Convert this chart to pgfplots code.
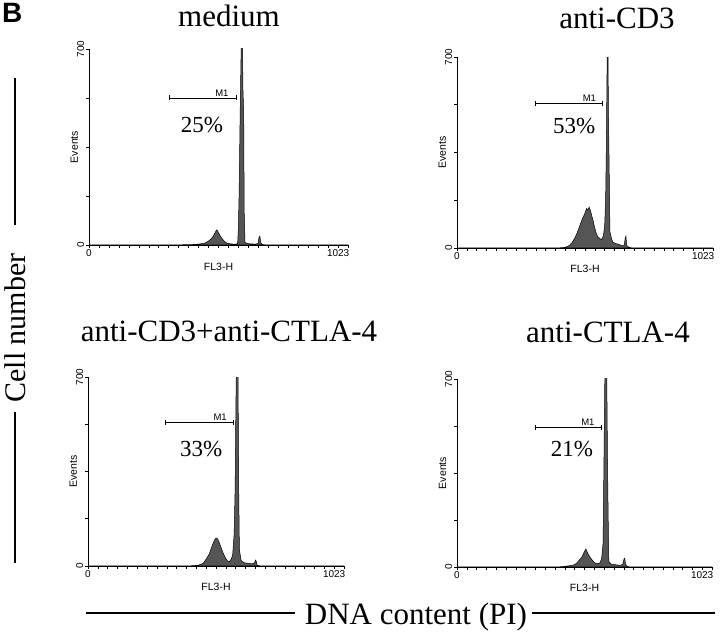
\documentclass[border=0pt]{standalone}
\usepackage{fontspec}
\setmainfont{Liberation Serif}
\setsansfont{Liberation Sans}
\usepackage{pgfplots}
\pgfplotsset{compat=1.18}
\usetikzlibrary{arrows.meta}
\definecolor{histfill}{RGB}{85,85,85}

\pgfplotsset{
  flowaxis/.style={
    scale only axis,
    anchor=south west,
    xmin=0, xmax=1023, ymin=0, ymax=700,
    axis x line*=bottom, axis y line*=left,
    axis line style={line width=0.8pt},
    tick align=outside,
    major tick length=3pt, minor tick length=3pt,
    tick style={line width=0.6pt, black},
    xtick={0}, xticklabels={0},
    extra x ticks={1023}, extra x tick labels={1023},
    extra x tick style={xticklabel style={anchor=north east, xshift=3pt}},
    minor xtick={39.35,78.7,118.05,157.4,196.75,236.1,275.45,314.8,354.15,393.5,432.85,472.2,511.55,550.9,590.25,629.6,668.95,708.3,747.65,787,826.35,865.7,905.05,944.4,983.75},
    minor x tick style={line width=0.5pt},
    ytick={0,700}, yticklabels={0,700},
    minor ytick={175,350,525},
    /pgf/number format/assume math mode=true,
    ticklabel style={font=\sffamily\fontsize{10}{11}\selectfont},
    yticklabel style={rotate=90, anchor=south, inner sep=1.5pt},
    xticklabel style={inner sep=1.5pt},
    xlabel={FL3-H}, ylabel={Events},
    label style={font=\sffamily\fontsize{10.5}{11}\selectfont},
    xlabel style={at={(axis description cs:0.5,-0.13)}, anchor=base},
    ylabel style={at={(axis description cs:-0.043,0.5)}, anchor=base},
    clip=true,
  },
  hist/.style={fill=histfill, draw=black, line width=0.5pt},
}

\pgfplotstableread{
x y
0 0
300 0
380 1
420 2
440 4
455 6
465 10
475 16
485 24
492 34
498 44
504 54
508 50
514 40
520 30
528 20
536 12
546 6
560 4
575 3
587 4
590 60
593 190
597 470
601 700
605 800
608 560
611 470
613 120
616 10
625 5
640 4
655 3
668 5
671 25
675 32
678 8
685 2
700 0
1023 0
}\medium

\pgfplotstableread{
x y
0 0
400 0
430 2
440 5
450 10
460 20
470 35
480 55
490 80
500 105
510 125
518 145
523 138
528 150
533 138
538 120
544 100
550 75
556 55
562 42
570 35
578 30
585 45
590 80
594 180
597 390
600 700
603 800
605 500
608 300
611 60
616 40
622 22
630 18
640 15
650 12
660 8
668 10
672 35
675 44
678 10
685 3
700 0
1023 0
}\antiCD

\pgfplotstableread{
x y
0 0
400 0
430 2
445 4
460 10
472 25
485 45
496 75
505 95
512 104
518 100
524 88
532 68
540 48
548 32
556 20
564 15
572 25
578 40
584 120
588 290
591 600
594 800
599 800
602 300
605 60
612 20
625 12
640 10
655 8
665 10
669 22
672 18
676 3
690 0
1023 0
}\combo

\pgfplotstableread{
x y
0 0
400 0
430 2
445 4
460 6
470 8
481 15
490 25
501 37
510 55
517 67
524 52
533 37
543 25
553 15
563 12
573 15
580 30
586 89
590 435
594 800
600 800
604 372
607 150
609 20
620 10
640 8
655 6
665 10
670 30
673 33
676 10
684 2
695 0
1023 0
}\antiCTLA

\begin{document}
\begin{tikzpicture}
\useasboundingbox (0pt,0pt) rectangle (720pt,634pt);

% panel 1: medium
\begin{axis}[flowaxis, at={(89pt,389pt)}, width=259pt, height=196pt]
\addplot[hist] table[x=x,y=y]{\medium} \closedcycle;
\draw[line width=0.6pt, {Bar[width=5pt]}-{Bar[width=5pt]}] (axis cs:316,525) -- (axis cs:584,525);
\node[font=\sffamily\fontsize{9.5}{10}\selectfont, anchor=south, inner sep=1.5pt] at (axis cs:525,525) {M1};
\node[font=\fontsize{23}{25}\selectfont, anchor=base] at (axis cs:446,400) {25\%};
\end{axis}

% panel 2: anti-CD3
\begin{axis}[flowaxis, at={(457pt,386pt)}, width=256pt, height=191pt]
\addplot[hist] table[x=x,y=y]{\antiCD} \closedcycle;
\draw[line width=0.6pt, {Bar[width=5pt]}-{Bar[width=5pt]}] (axis cs:312,531) -- (axis cs:583,531);
\node[font=\sffamily\fontsize{9.5}{10}\selectfont, anchor=south, inner sep=1.5pt] at (axis cs:529,531) {M1};
\node[font=\fontsize{23}{25}\selectfont, anchor=base] at (axis cs:468,421) {53\%};
\end{axis}

% panel 3: anti-CD3+anti-CTLA-4
\begin{axis}[flowaxis, at={(88pt,68pt)}, width=256pt, height=189pt]
\addplot[hist] table[x=x,y=y]{\combo} \closedcycle;
\draw[line width=0.6pt, {Bar[width=5pt]}-{Bar[width=5pt]}] (axis cs:307,533) -- (axis cs:580,533);
\node[font=\sffamily\fontsize{9.5}{10}\selectfont, anchor=south, inner sep=1.5pt] at (axis cs:528,533) {M1};
\node[font=\fontsize{23}{25}\selectfont, anchor=base] at (axis cs:452,404) {33\%};
\end{axis}

% panel 4: anti-CTLA-4
\begin{axis}[flowaxis, at={(457pt,67pt)}, width=255pt, height=188pt]
\addplot[hist] table[x=x,y=y]{\antiCTLA} \closedcycle;
\draw[line width=0.6pt, {Bar[width=5pt]}-{Bar[width=5pt]}] (axis cs:313,521) -- (axis cs:582,521);
\node[font=\sffamily\fontsize{9.5}{10}\selectfont, anchor=south, inner sep=1.5pt] at (axis cs:525,521) {M1};
\node[font=\fontsize{23}{25}\selectfont, anchor=base] at (axis cs:461,413) {21\%};
\end{axis}

% figure-level labels
\node[font=\sffamily\bfseries\fontsize{28}{30}\selectfont, anchor=base west, inner sep=0pt] at (2pt,611pt) {B};
\node[font=\fontsize{31}{33}\selectfont, anchor=base, inner sep=0pt] at (229pt,607pt) {medium};
\node[font=\fontsize{31}{33}\selectfont, anchor=base, inner sep=0pt] at (617pt,605pt) {anti-CD3};
\node[font=\fontsize{31}{33}\selectfont, anchor=base, inner sep=0pt] at (229pt,292pt) {anti-CD3+anti-CTLA-4};
\node[font=\fontsize{31}{33}\selectfont, anchor=base, inner sep=0pt] at (608pt,291pt) {anti-CTLA-4};

\node[font=\fontsize{30}{32}\selectfont, rotate=90, anchor=base, inner sep=0pt] at (25pt,306pt) {Cell number};
\draw[line width=1.2pt] (15pt,556pt) -- (15pt,409pt);
\draw[line width=1.2pt] (15pt,222pt) -- (15pt,71pt);

\node[font=\fontsize{31}{33}\selectfont, anchor=base, inner sep=0pt] at (416pt,9pt) {DNA content (PI)};
\draw[line width=1.2pt] (86pt,21pt) -- (295pt,21pt);
\draw[line width=1.2pt] (532pt,21pt) -- (715pt,21pt);
\end{tikzpicture}
\end{document}
